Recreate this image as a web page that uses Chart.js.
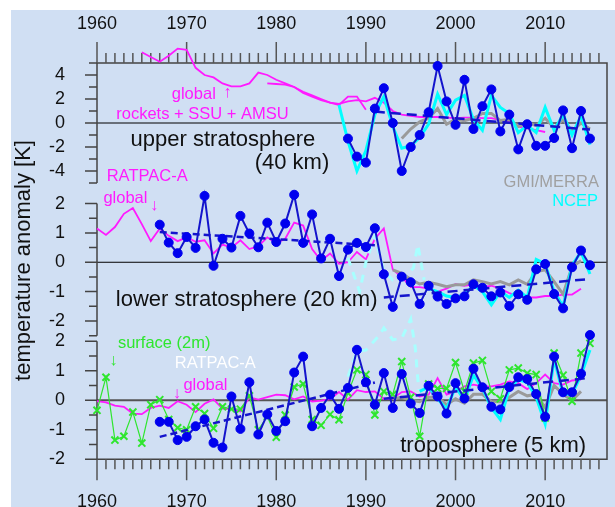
<!DOCTYPE html>
<html>
<head>
<meta charset="utf-8">
<script src="https://cdn.jsdelivr.net/npm/chart.js@4.4.1/dist/chart.umd.min.js"></script>
<style>
body { margin: 0; background: #fff; }
#wrap { width: 615px; height: 507px; }
</style>
</head>
<body>
<div id="wrap"><canvas id="myChart"></canvas></div>
<script>
// ---------- data ----------
// upper stratosphere (40 km)
const upperBlueStart = 1988;
const upperBlue = [-1.3, -2.8, -3.3, 1.2, 2.9, 0.0, -4.0, -2.0, -1.0, 0.9, 4.75, 1.8, -0.15, 3.6, -0.5, 1.4, 2.8, -0.7, 0.7, -2.2, -0.1, -1.9, -1.9, -1.25, 1.05, -2.1, 1.0, -1.3];
const upperNcepStart = 1987;
const upperNcep = [1.5, -1.5, -4.0, -2.3, 0.7, 2.2, -0.3, -2.1, -1.9, -1.2, -0.1, 2.4, 0.7, 1.9, 2.3, 0.3, -0.6, 2.3, 1.3, 0.8, -0.8, -0.2, -0.8, 1.3, -0.6, 0.7, -1.0, 0.6, -1.8];
const upperMerraStart = 1994;
const upperMerra = [-1.3, -0.5, 0.1, 0.4, 1.2, -0.1, 0.3, 0.2, 0.4, 0.8, 0.8, 0.2, 0.3, -0.3, 0.0, -0.2, 0.4, -0.4, 0.3, -0.7, 0.0, -0.5];
const upperRocketsStart = 1965;
const upperRockets = [5.9, 5.5, 5.1, 5.6, 6.2, 6.1, 4.6, 4.0, 3.8, 3.3, 3.05, 3.05, 3.3, 4.2, 4.0, 3.6, 3.3, 3.0, 2.5, 2.2, 1.9, 1.7, 1.5, 2.2, 2.2, 1.1];
const upperSsuStart = 1979;
const upperSsu = [3.3, 3.25, 3.2, 3.0, 2.6, 2.3, 2.0, 1.7, 1.6, 1.8, 1.9, 1.8, 2.1, 1.7, 1.0, 0.7, 0.6, 0.5, 0.5, 0.5, 0.45, 0.4, 0.45, 0.45, 0.4, 0.4, 0.25, 0.1, -0.3, -0.45, -0.6, -0.75];
const upperTrendYears = [1991, 2015];
const upperTrend = [0.95, -0.55];

// lower stratosphere (20 km)
const lowerBlueStart = 1967;
const lowerBlue = [1.28, 0.67, 0.31, 0.86, 0.49, 2.26, -0.12, 0.8, 0.5, 1.58, 0.98, 0.51, 1.35, 0.69, 1.32, 2.3, 0.66, 1.63, 0.13, 0.8, -0.47, 0.43, 0.66, 0.52,
  1.16, -0.41, -1.52, -0.49, -0.68, -1.42, -0.8, -1.17, -1.42, -1.23, -1.16, -0.75, -0.87, -1.16, -1.03, -1.49, -1.09, -1.28, -0.24, -0.06, -1.08, -1.57, -0.17, 0.4, -0.1];
const lowerNcepStart = 1997;
const lowerNcep = [-0.9, -1.0, -1.15, -1.2, -1.1, -0.8, -1.0, -1.45, -1.0, -1.2, -0.95, -1.2, 0.1, -0.05, -1.0, -1.5, -0.1, 0.35, -0.4];
const lowerNcepGapYears = [1988, 1989.3, 1990, 1991, 1992, 1993, 1994, 1995.3, 1995.8, 1996.5];
const lowerNcepGap = [0.15, -1.0, 0.0, 0.9, -0.3, -0.6, -0.6, -0.2, 0.6, -0.6];
const lowerMerraStart = 1993;
const lowerMerra = [-0.26, -0.38, -0.58, -0.74, -0.68, -0.75, -0.83, -0.77, -0.77, -0.6, -0.66, -0.74, -0.66, -0.77, -0.6, -0.75, -0.32, -0.26, -0.66, -1.09, -0.15, 0.05];
const lowerRatpacStart = 1960;
const lowerRatpac = [1.15, 0.93, 1.2, 1.65, 1.85, 1.3, 0.72, 1.15, 0.9, 0.72, 0.85, 0.7, 0.75, 0.3, 0.6, 0.5, 0.75, 0.45, 0.55, 0.85, 0.65, 0.8, 1.35, 1.25, 0.45, 0.05, 0.3, -0.05, 0.0, 0.35,
  0.1, 0.8, 1.15, -0.25, -0.5, -0.85, -0.85, -0.9, -1.0, -0.9, -0.75, -0.8, -0.75, -0.85, -0.8, -0.9, -1.05, -1.15, -1.2, -1.2, -1.15, -1.15, -1.1, -1.1, -0.9];
const lowerTrend1Years = [1967, 1991];
const lowerTrend1 = [1.03, 0.58];
const lowerTrend2Years = [1992, 2015];
const lowerTrend2 = [-1.2, -0.57];

// troposphere (5 km)
const tropoBlueStart = 1967;
const tropoBlue = [-0.73, -0.73, -1.35, -1.24, -0.88, -0.65, -1.44, -1.6, 0.13, -0.97, 0.61, -1.16, -0.48, -1.04, -0.71, 0.94, 1.48, -0.88, -0.26, 0.19, -0.29,
  0.42, 1.71, 0.61, -0.15, 0.92, -0.26, 0.89, -0.11, -0.43, 0.49, 0.13, -0.45, 0.58, 0.06, 1.07, 0.44, -0.22, -0.31, 0.45, 0.78, 0.72, 0.21, -0.56, 1.48, 0.27, 0.27, 0.9, 2.21];
const tropoSurfaceStart = 1960;
const tropoSurface = [-0.34, 0.78, -1.35, -1.22, -0.4, -1.45, -0.15, 0.02, -0.65, -0.93, -1.0, -0.22, -0.45, -0.95, -0.22, -0.3, -0.3, 0.15, -1.0, -0.55, -1.25, -0.5, 0.45, 0.55, -0.65, -0.85, -0.48, -0.66,
  0.25, 1.03, 0.87, -0.5, 0.3, 0.2, 1.31, 0.1, -1.22, 0.55, 0.4, 0.4, 1.28, 0.3, 1.26, 1.35, 0.3, 0.05, 1.03, 1.09, 0.92, 0.87, -0.6, 1.6, 0.85, -0.03, 1.6, 1.93];
const tropoRatpacStart = 1960;
const tropoRatpac = [-0.03, -0.07, -0.18, -0.22, -0.45, -0.47, -0.26, -0.18, -0.26, -0.03, -0.15, -0.4, -0.12, 0.03, -0.28, -0.3, -0.38, 0.1, 0.02, 0.11, 0.19, 0.17, 0.03, 0.13, -0.04, -0.01, 0.04, 0.28,
  0.02, 0.34, 0.28, 0.3, 0.05, 0.06, 0.28, 0.3, 0.13, 0.19, 0.75, 0.19, 0.3, 0.47, 0.53, 0.47, 0.47, 0.53, 0.64, 0.58, 0.38, 0.58, 0.87, 0.58, 0.53, 0.67, 0.7];
const tropoNcepStart = 1996;
const tropoNcep = [0.3, 0.45, 0.05, -0.3, 0.45, 0.0, 0.85, 0.4, -0.25, -0.65, 0.4, 0.7, 0.6, 0.1, -0.8, 1.4, 0.2, 0.2, 0.85, 1.7];
const tropoNcepGapYears = [1988, 1989, 1990, 1991.5, 1992, 1993, 1994, 1995, 1995.5, 1995.9];
const tropoNcepGap = [0.8, 1.65, 1.7, 2.2, 2.45, 2.05, 2.1, 2.75, 1.8, 0.35];
const tropoMerraStart = 1993;
const tropoMerra = [0.05, 0.1, 0.0, -0.05, 0.1, 0.1, -0.15, 0.05, -0.1, 0.2, 0.2, -0.05, -0.05, 0.1, 0.3, 0.15, 0.2, -0.25, 0.5, 0.2, 0.0, 0.3];
const tropoTrend1Years = [1967, 1991];
const tropoTrend1 = [-1.24, 0.6];
const tropoTrend2Years = [1992, 2015];
const tropoTrend2 = [0.05, 0.76];

// ---------- styles ----------
const FONT = "'Liberation Sans', Arial, sans-serif";
const BLUE = '#0000ee';
const BLUE_LINE = '#1414cc';
const CYAN = '#00ffff';
const PALE_CYAN = '#a8ffff';
const GRAY = '#9a9a9a';
const MAGENTA = '#ff1aff';
const GREEN = '#2ee62e';

Chart.defaults.font.family = FONT;

function yearly(start, vals) {
    return vals.map((v, i) => ({ x: start + i, y: v }));
}
function paired(xs, ys) {
    return xs.map((x, i) => ({ x: x, y: ys[i] }));
}

const blueStyle = { borderColor: BLUE_LINE, borderWidth: 2, pointRadius: 4.5, pointBackgroundColor: BLUE, pointBorderColor: BLUE, pointBorderWidth: 1, order: 1 };
const trendStyle = { borderColor: BLUE_LINE, borderWidth: 2.5, borderDash: [10, 6], pointRadius: 0, order: 2 };
const greenStyle = { borderColor: GREEN, borderWidth: 1.2, pointStyle: 'crossRot', pointRadius: 5, pointBorderWidth: 2, pointBorderColor: GREEN, pointBackgroundColor: GREEN, order: 3 };
const cyanStyle = { borderColor: CYAN, borderWidth: 3, pointRadius: 0, order: 4 };
const paleStyle = { borderColor: PALE_CYAN, borderWidth: 3, borderDash: [8, 7], pointRadius: 0, order: 5 };
const grayStyle = { borderColor: GRAY, borderWidth: 3, pointRadius: 0, order: 6 };
const magentaStyle = { borderColor: MAGENTA, borderWidth: 1.8, pointRadius: 0, order: 7 };

function ds(label, data, axis, style) {
    return Object.assign({ label: label, data: data, xAxisID: 'x', yAxisID: axis, clip: false, fill: false, tension: 0 }, style);
}

const datasets = [
    ds('upper', yearly(upperBlueStart, upperBlue), 'yU', blueStyle),
    ds('upper trend', paired(upperTrendYears, upperTrend), 'yU', trendStyle),
    ds('upper NCEP', yearly(upperNcepStart, upperNcep), 'yU', cyanStyle),
    ds('upper GMI/MERRA', yearly(upperMerraStart, upperMerra), 'yU', grayStyle),
    ds('rockets', yearly(upperRocketsStart, upperRockets), 'yU', magentaStyle),
    ds('SSU + AMSU', yearly(upperSsuStart, upperSsu), 'yU', magentaStyle),

    ds('lower', yearly(lowerBlueStart, lowerBlue), 'yL', blueStyle),
    ds('lower trend 1', paired(lowerTrend1Years, lowerTrend1), 'yL', Object.assign({}, trendStyle, { borderDash: [7, 4] })),
    ds('lower trend 2', paired(lowerTrend2Years, lowerTrend2), 'yL', trendStyle),
    ds('lower NCEP', yearly(lowerNcepStart, lowerNcep), 'yL', cyanStyle),
    ds('lower NCEP gap', paired(lowerNcepGapYears, lowerNcepGap), 'yL', paleStyle),
    ds('lower GMI/MERRA', yearly(lowerMerraStart, lowerMerra), 'yL', grayStyle),
    ds('lower RATPAC-A', yearly(lowerRatpacStart, lowerRatpac), 'yL', magentaStyle),

    ds('tropo', yearly(tropoBlueStart, tropoBlue), 'yT', blueStyle),
    ds('tropo trend 1', paired(tropoTrend1Years, tropoTrend1), 'yT', Object.assign({}, trendStyle, { borderDash: [7, 4] })),
    ds('tropo trend 2', paired(tropoTrend2Years, tropoTrend2), 'yT', trendStyle),
    ds('surface', yearly(tropoSurfaceStart, tropoSurface), 'yT', greenStyle),
    ds('tropo NCEP', yearly(tropoNcepStart, tropoNcep), 'yT', cyanStyle),
    ds('tropo NCEP gap', paired(tropoNcepGapYears, tropoNcepGap), 'yT', paleStyle),
    ds('tropo GMI/MERRA', yearly(tropoMerraStart, tropoMerra), 'yT', grayStyle),
    ds('tropo RATPAC-A', yearly(tropoRatpacStart, tropoRatpac), 'yT', magentaStyle)
];

// ---------- frame, ticks, zero lines, text ----------
const panels = [
    { id: 'yU', top: 5, bottom: -5, step: 1, major: 2, zero: '#000', zeroWidth: 1 },
    { id: 'yL', top: 2, bottom: -2.5, step: 0.5, major: 1, zero: '#000', zeroWidth: 1 },
    { id: 'yT', top: 2, bottom: -2, step: 0.5, major: 1, zero: '#555', zeroWidth: 2 }
];

const notes = [
    { t: 'upper stratosphere', x: 1974.05, y: -1.39, ax: 'yU', c: '#111', s: 22 },
    { t: '(40 km)', x: 1981.75, y: -3.3, ax: 'yU', c: '#111', s: 22 },
    { t: 'lower stratosphere (20 km)', x: 1976.7, y: -1.29, ax: 'yL', c: '#111', s: 22 },
    { t: 'troposphere (5 km)', x: 2004.2, y: -1.56, ax: 'yT', c: '#111', s: 22 },
    { t: 'global', x: 1970.8, y: 2.36, ax: 'yU', c: MAGENTA, s: 16.5 },
    { t: '\u2191', x: 1974.55, y: 2.57, ax: 'yU', c: MAGENTA, s: 16.5 },
    { t: 'rockets + SSU + AMSU', x: 1971.76, y: 0.69, ax: 'yU', c: MAGENTA, s: 16.5 },
    { t: 'RATPAC-A', x: 1965.6, y: 2.91, ax: 'yL', c: MAGENTA, s: 16.5 },
    { t: 'global', x: 1963.17, y: 2.19, ax: 'yL', c: MAGENTA, s: 16.5 },
    { t: '\u2193', x: 1966.36, y: 1.95, ax: 'yL', c: MAGENTA, s: 16.5 },
    { t: 'GMI/MERRA', x: 2016.0, y: 2.73, ax: 'yL', c: '#a0a0a0', s: 16.5, a: 'right' },
    { t: 'NCEP', x: 2015.9, y: 2.06, ax: 'yL', c: CYAN, s: 16.5, a: 'right' },
    { t: 'surface (2m)', x: 1967.5, y: 1.91, ax: 'yT', c: GREEN, s: 16.5 },
    { t: '\u2193', x: 1961.82, y: 1.35, ax: 'yT', c: GREEN, s: 16.5 },
    { t: 'RATPAC-A', x: 1973.2, y: 1.24, ax: 'yT', c: '#ffffff', s: 16.5 },
    { t: '\u2193', x: 1968.9, y: 0.24, ax: 'yT', c: MAGENTA, s: 16.5 },
    { t: 'global', x: 1972.1, y: 0.5, ax: 'yT', c: MAGENTA, s: 16.5 }
];

const decor = {
    id: 'decor',
    beforeDraw(chart) {
        const c = chart.ctx;
        c.save();
        c.fillStyle = '#ffffff';
        c.fillRect(0, 0, chart.width, chart.height);
        c.fillStyle = '#d0dff3';
        c.fillRect(11, 10, chart.width - 11, chart.height - 10);
        c.restore();
    },
    beforeDatasetsDraw(chart) {
        const c = chart.ctx;
        const a = chart.chartArea;
        const s = chart.scales;
        c.save();
        c.lineCap = 'butt';

        // zero lines
        panels.forEach(p => {
            const py = s[p.id].getPixelForValue(0);
            c.strokeStyle = p.zero;
            c.lineWidth = p.zeroWidth;
            c.beginPath();
            c.moveTo(a.left, py);
            c.lineTo(a.right, py);
            c.stroke();
        });

        // frame top / right / bottom
        c.strokeStyle = '#444';
        c.lineWidth = 1.5;
        c.beginPath();
        c.moveTo(a.left, a.top);
        c.lineTo(a.right, a.top);
        c.lineTo(a.right, a.bottom);
        c.lineTo(a.left, a.bottom);
        c.stroke();

        // year ticks
        c.strokeStyle = '#555';
        c.beginPath();
        for (let yr = 1960; yr <= 2016; yr++) {
            const px = s.x.getPixelForValue(yr);
            const len = yr % 10 === 0 ? 21 : 10;
            c.moveTo(px, a.top);
            c.lineTo(px, a.top - len);
            c.moveTo(px, a.bottom);
            c.lineTo(px, a.bottom + len);
        }
        c.stroke();

        // left axis pieces
        c.strokeStyle = '#444';
        c.beginPath();
        panels.forEach(p => {
            const sc = s[p.id];
            c.moveTo(a.left, sc.getPixelForValue(p.top));
            c.lineTo(a.left, sc.getPixelForValue(p.bottom));
            const n = Math.round((p.top - p.bottom) / p.step);
            for (let i = 0; i <= n; i++) {
                const v = p.top - i * p.step;
                const q = v / p.major;
                const len = Math.abs(q - Math.round(q)) < 1e-6 ? 12 : 8;
                const py = sc.getPixelForValue(v);
                c.moveTo(a.left, py);
                c.lineTo(a.left - len, py);
            }
        });
        c.stroke();
        c.restore();
    },
    afterDatasetsDraw(chart) {
        const c = chart.ctx;
        const s = chart.scales;
        c.save();
        c.textBaseline = 'middle';
        notes.forEach(n => {
            c.font = n.s + 'px ' + FONT;
            c.fillStyle = n.c;
            c.textAlign = n.a || 'center';
            c.fillText(n.t, s.x.getPixelForValue(n.x), s[n.ax].getPixelForValue(n.y));
        });
        c.restore();
    }
};

// ---------- axes ----------
function yearAxis(position, padding, height) {
    return {
        type: 'linear',
        position: position,
        min: 1960,
        max: 2016.9,
        grid: { display: false, drawTicks: false },
        border: { display: false },
        ticks: {
            stepSize: 10,
            autoSkip: false,
            includeBounds: false,
            maxRotation: 0,
            padding: padding,
            color: '#111',
            font: { size: 18 },
            callback: v => String(v)
        },
        afterFit: sc => { sc.height = height; }
    };
}

function panelAxis(min, max, step, weight, stackWeight, labelEvery, limit) {
    return {
        type: 'linear',
        position: 'left',
        stack: 'panels',
        stackWeight: stackWeight,
        weight: weight,
        min: min,
        max: max,
        grid: { display: false, drawTicks: false },
        border: { display: false },
        ticks: {
            stepSize: step,
            autoSkip: false,
            includeBounds: false,
            padding: 32,
            color: '#111',
            font: { size: 18 },
            callback: v => {
                const q = v / labelEvery;
                return (Math.abs(q - Math.round(q)) < 1e-6 && Math.abs(v) <= limit) ? String(v) : '';
            }
        },
        afterFit: sc => { sc.width = 86; }
    };
}

const yL = panelAxis(-2.58, 2.70, 0.5, 2, 155, 1, 2);
yL.title = {
    display: true,
    text: 'temperature anomaly [K]',
    color: '#111',
    font: { size: 22 },
    padding: { top: 0, bottom: 0 }
};

let myChart = new Chart(document.getElementById('myChart'), {
    type: 'line',
    data: { datasets: datasets },
    plugins: [decor],
    options: {
        responsive: true,
        maintainAspectRatio: false,
        animation: false,
        events: [],
        layout: { padding: { left: 11, top: 10, right: 8, bottom: 0 } },
        plugins: {
            legend: { display: false },
            tooltip: { enabled: false }
        },
        scales: {
            x: yearAxis('bottom', 32, 47.7),
            x2: yearAxis('top', 28, 53),
            yU: panelAxis(-5, 5, 1, 3, 120, 2, 4),
            yL: yL,
            yT: panelAxis(-2, 2.11, 0.5, 1, 121.3, 1, 2)
        }
    }
});
</script>
</body>
</html>
